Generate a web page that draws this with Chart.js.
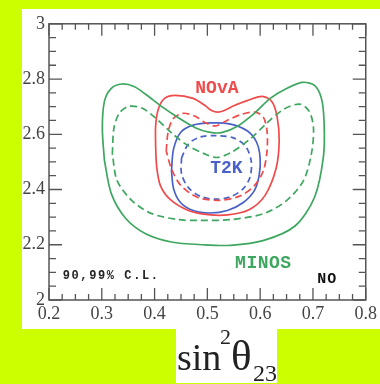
<!DOCTYPE html>
<html>
<head>
<meta charset="utf-8">
<script src="https://cdn.jsdelivr.net/npm/chart.js@4"></script>
<style>
body{margin:0;background:#ccff00;width:380px;height:384px;overflow:hidden;position:relative}
#box{position:absolute;left:22px;top:9px;width:358px;height:320px;background:#fff}
#xlab{position:absolute;left:176px;top:329px;width:101px;height:54px;background:#fff;font-family:"Liberation Serif",serif;color:#222}
#xlab span{position:absolute;white-space:nowrap}
</style>
</head>
<body>
<div id="box"><canvas id="c" width="358" height="320"></canvas></div>
<div id="xlab">
<span style="left:1px;top:9px;font-size:38px;line-height:38px">sin</span>
<span style="left:44px;top:-3px;font-size:22px;line-height:22px">2</span>
<span style="left:55px;top:5px;font-size:43px;line-height:43px">θ</span>
<span style="left:77px;top:32px;font-size:24px;line-height:24px">23</span>
</div>
<script>

// tick labels
const xTicks = [0.2,0.3,0.4,0.5,0.6,0.7,0.8]
const yTicks = [2,2.2,2.4,2.6,2.8,3]

// contours [sin^2 theta23, dm2]
const minos99 = [
[0.305,2.504],[0.301,2.622],[0.305,2.719],[0.318,2.766],[0.338,2.782],[0.361,2.773],[0.383,2.745],
[0.413,2.701],[0.445,2.660],[0.477,2.624],[0.503,2.608],[0.527,2.606],[0.557,2.629],[0.589,2.676],
[0.619,2.730],[0.650,2.766],[0.680,2.788],[0.703,2.777],[0.716,2.730],[0.721,2.647],[0.720,2.522],
[0.703,2.372],[0.666,2.268],[0.607,2.216],[0.544,2.198],[0.492,2.200],[0.432,2.210],[0.383,2.240],
[0.345,2.296],[0.318,2.385],[0.305,2.504]
]
const minos90 = [
[0.320,2.529],[0.323,2.622],[0.333,2.676],[0.351,2.701],[0.376,2.695],[0.402,2.659],[0.432,2.605],
[0.464,2.558],[0.495,2.529],[0.518,2.516],[0.544,2.533],[0.581,2.583],[0.613,2.641],[0.645,2.691],
[0.675,2.709],[0.693,2.683],[0.701,2.622],[0.697,2.529],[0.682,2.432],[0.650,2.360],[0.607,2.313],
[0.544,2.291],[0.482,2.288],[0.445,2.291],[0.394,2.313],[0.357,2.360],[0.329,2.432],[0.320,2.529]
]
const nova99 = [
[0.402,2.554],[0.402,2.629],[0.407,2.691],[0.419,2.730],[0.439,2.741],[0.473,2.730],[0.495,2.705],
[0.508,2.686],[0.520,2.680],[0.532,2.686],[0.550,2.703],[0.575,2.722],[0.604,2.737],[0.622,2.719],
[0.632,2.665],[0.636,2.576],[0.630,2.475],[0.609,2.378],[0.579,2.327],[0.538,2.308],[0.501,2.309],
[0.464,2.324],[0.430,2.363],[0.411,2.414],[0.404,2.482],[0.402,2.554]
]
const nova90 = [
[0.422,2.540],[0.426,2.612],[0.436,2.658],[0.454,2.676],[0.477,2.665],[0.497,2.641],[0.516,2.630],
[0.538,2.651],[0.566,2.673],[0.591,2.680],[0.606,2.662],[0.613,2.612],[0.613,2.540],[0.606,2.468],
[0.589,2.414],[0.561,2.376],[0.523,2.361],[0.482,2.371],[0.450,2.414],[0.432,2.475],[0.422,2.540]
]
const t2k99 = [
[0.432,2.468],[0.436,2.547],[0.450,2.608],[0.473,2.633],[0.507,2.641],[0.544,2.637],[0.576,2.612],
[0.593,2.572],[0.600,2.514],[0.598,2.450],[0.589,2.396],[0.568,2.353],[0.538,2.324],[0.505,2.315],
[0.473,2.324],[0.449,2.353],[0.436,2.403],[0.432,2.468]
]
const t2k90 = [
[0.451,2.514],[0.464,2.565],[0.486,2.590],[0.516,2.595],[0.548,2.588],[0.572,2.558],[0.583,2.504],
[0.581,2.446],[0.568,2.403],[0.544,2.374],[0.514,2.365],[0.486,2.376],[0.464,2.407],[0.451,2.457],
[0.451,2.514]
]

const green = "#3da75f"
const red = "#f04a4a"
const blue = "#4a62c8"

function pts(arr){ return arr.map(p=>({x:p[0],y:p[1]})) }

function contour(arr,color,dash){
return {
data:pts(arr),
showLine:true,
borderColor:color,
borderWidth:1.7,
borderDash:dash,
pointRadius:0,
tension:0.3,
fill:false
}
}

/* frame, inward ticks and text labels */
const decor = {
id:"decor",
afterDatasetsDraw(chart){
const ctx = chart.ctx
const a = chart.chartArea
const xs = chart.scales.x
const ys = chart.scales.y
ctx.save()
ctx.strokeStyle = "#555"
ctx.lineWidth = 1.5
ctx.strokeRect(a.left,a.top,a.right-a.left,a.bottom-a.top)
ctx.lineWidth = 1.3
ctx.beginPath()
for(let i=0;i<=24;i++){
const v = 0.2 + i*0.025
const px = xs.getPixelForValue(v)
const len = (i%4==0) ? 12 : 6
ctx.moveTo(px,a.bottom); ctx.lineTo(px,a.bottom-len)
ctx.moveTo(px,a.top); ctx.lineTo(px,a.top+len)
}
for(let i=0;i<=20;i++){
const v = 2 + i*0.05
const py = ys.getPixelForValue(v)
const len = (i%4==0) ? 13 : 7
ctx.moveTo(a.left,py); ctx.lineTo(a.left+len,py)
ctx.moveTo(a.right,py); ctx.lineTo(a.right-len,py)
}
ctx.stroke()

function label(txt,x,y,color,font,align,spacing){
ctx.fillStyle = color
ctx.font = font
ctx.textAlign = align
ctx.textBaseline = "middle"
ctx.letterSpacing = spacing || "0px"
ctx.fillText(txt,xs.getPixelForValue(x),ys.getPixelForValue(y))
}
label("NOvA",0.518,2.766,red,"bold 18px 'Liberation Mono'","center")
label("T2K",0.536,2.475,blue,"bold 18px 'Liberation Mono'","center")
label("MINOS",0.606,2.133,green,"bold 18px 'Liberation Mono'","center","0.5px")
label("NO",0.727,2.076,"#111","bold 15px 'Liberation Mono'","center","1px")
label("90,99% C.L.",0.226,2.086,"#222","bold 12px 'Liberation Mono'","left","1.6px")
ctx.restore()
}
}

new Chart(document.getElementById("c"),{
type:"scatter",
data:{
datasets:[
contour(minos99,green,[]),
contour(minos90,green,[7,4]),
contour(nova99,red,[]),
contour(nova90,red,[7,4]),
contour(t2k99,blue,[]),
contour(t2k90,blue,[6,4])
]
},
options:{
responsive:false,
animation:false,
devicePixelRatio:1,
layout:{padding:{left:0,right:10,top:13,bottom:0}},
plugins:{legend:{display:false},tooltip:{enabled:false}},
scales:{
x:{
type:"linear",min:0.2,max:0.8,
grid:{display:false,drawTicks:false},
border:{display:false},
afterBuildTicks(s){ s.ticks = xTicks.map(v=>({value:v})) },
afterFit(s){ s.height = 29 },
ticks:{padding:3,color:"#444",font:{family:"'Liberation Serif'",size:18},maxRotation:0,autoSkip:false,
callback:v=>v.toFixed(1)}
},
y:{
type:"linear",min:2,max:3,
grid:{display:false,drawTicks:false},
border:{display:false},
afterBuildTicks(s){ s.ticks = yTicks.map(v=>({value:v})) },
afterFit(s){ s.width = 27 },
ticks:{padding:4,color:"#444",font:{family:"'Liberation Serif'",size:18},autoSkip:false,
callback:v=>(v==2||v==3) ? String(v) : v.toFixed(1)}
}
}
},
plugins:[decor]
})

</script>
</body>
</html>
